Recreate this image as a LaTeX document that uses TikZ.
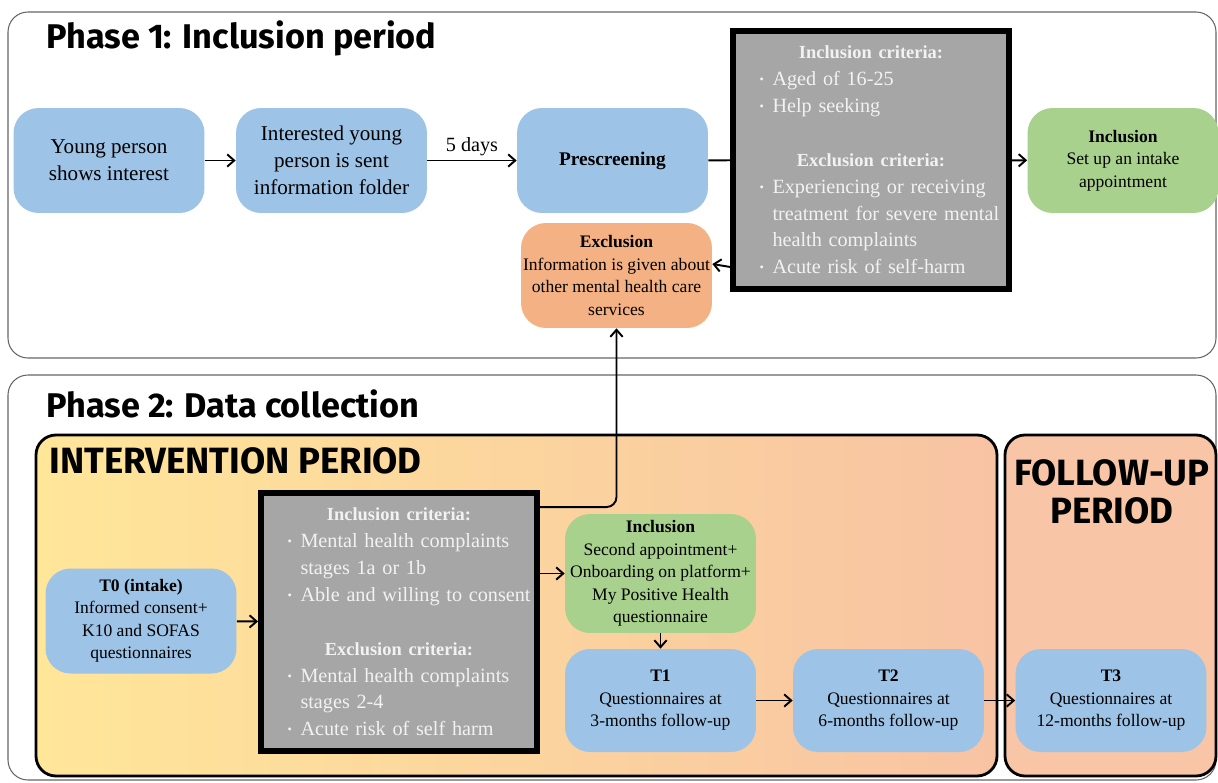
\documentclass[tikz,border=0pt]{standalone}
\usepackage{fontspec}
\setmainfont{Liberation Serif}
\newfontfamily\headfont{Fira Sans}
\usetikzlibrary{arrows.meta}
\definecolor{boxblue}{HTML}{9DC3E6}
\definecolor{boxgreen}{HTML}{A9D18E}
\definecolor{boxorange}{HTML}{F4B183}
\definecolor{critgray}{HTML}{A6A6A6}
\definecolor{crittext}{HTML}{F2F2F2}
\definecolor{ivyellow}{HTML}{FFE699}
\definecolor{ivpeach}{HTML}{F8C3A3}
\definecolor{fupeach}{HTML}{F8C6A6}
\newcommand{\crithead}[1]{{\centering\fontsize{10.5}{15.3}\selectfont\bfseries #1\par}}
\newcommand{\critem}[1]{{\leftskip=0.78cm\rightskip=-0.2cm plus 1fil\hyphenpenalty=10000\noindent\llap{\raisebox{0.2ex}{\scriptsize\textbullet}\hspace{0.17cm}}#1\par}}

\begin{document}
\begin{tikzpicture}[x=0.02cm,y=-0.02cm]
	\tikzstyle{every node}+=[inner sep=0pt]
	\tikzstyle{frame}=[draw=black!60, line width=0.6pt, rounded corners=0.4cm]
	\tikzstyle{period}=[draw=black, line width=1.6pt, rounded corners=0.4cm]
	\tikzstyle{flow}=[rounded corners=0.5cm, minimum width=3.82cm, minimum height=2.1cm, align=center, font=\fontsize{12}{15.3}\selectfont]
	\tikzstyle{note}=[flow, font=\fontsize{10}{12.8}\selectfont]
	\tikzstyle{critbox}=[draw=black, line width=3.4pt, fill=critgray, minimum width=5.52cm, minimum height=5.16cm, text width=5.5cm, align=left, text=crittext, font=\fontsize{11.5}{15.3}\selectfont]
	\tikzstyle{arr}=[-{Straight Barb[length=4pt,width=7pt]}, line width=1.1pt]
	\tikzstyle{title}=[anchor=west, font=\headfont\bfseries\fontsize{19.5}{23}\selectfont]
	\tikzstyle{period title}=[title, font=\headfont\bfseries\fontsize{20.8}{21.5}\selectfont]
	\useasboundingbox (0,0) rectangle (1218,782);
	\draw[frame] (8,12) rectangle (1216,358);
	\draw[frame] (8,375) rectangle (1216,780);
	\shade[left color=ivyellow, right color=ivpeach, rounded corners=0.4cm] (36,435) rectangle (997,776);
	\draw[period] (36,435) rectangle (997,776);
	\draw[period, fill=fupeach] (1005,435) rectangle (1216,776);
	\node[title] (ph1) at (46,38) {Phase 1: Inclusion period};
	\node[title] (ph2) at (46,404) {Phase 2: Data collection};
	\node[period title] (ivp) at (49,461) {INTERVENTION PERIOD};
	\node[period title, anchor=center, align=center] (fup) at (1112,492) {FOLLOW-UP\\PERIOD};
	\node[flow, fill=boxblue] (young) at (109,160.5) {Young person\\shows interest};
	\node[flow, fill=boxblue] (folder) at (331.5,160.5) {Interested young\\person is sent\\information folder};
	\node[flow, fill=boxblue] (presc) at (612.5,160.5) {\fontsize{11}{14}\selectfont\textbf{Prescreening}};
	\node[critbox] (crit1) at (871,160) {
		\crithead{Inclusion criteria:}
		\critem{Aged of 16-25}
		\critem{Help seeking}
		\vspace{15.3pt}
		\crithead{Exclusion criteria:}
		\critem{Experiencing or receiving\newline treatment for severe mental\newline health complaints}
		\critem{Acute risk of self-harm}};
	\node[note, fill=boxgreen] (intake) at (1123,160.5) {\textbf{Inclusion}\\Set up an intake\\appointment};
	\node[note, fill=boxorange] (excl) at (616.5,275.5) {\textbf{Exclusion}\\Information is given about\\other mental health care\\services};
	\node[note, fill=boxblue] (t0) at (141,621) {\textbf{T0 (intake)}\\Informed consent+\\K10 and SOFAS\\questionnaires};
	\node[critbox] (crit2) at (399,622) {
		\crithead{Inclusion criteria:}
		\critem{Mental health complaints\newline stages 1a or 1b}
		\critem{Able and willing to consent}
		\vspace{15.3pt}
		\crithead{Exclusion criteria:}
		\critem{Mental health complaints\newline stages 2-4}
		\critem{Acute risk of self harm}};
	\node[note, fill=boxgreen, minimum height=2.38cm] (onboard) at (660.5,573.5) {\textbf{Inclusion}\\Second appointment+\\Onboarding on platform+\\My Positive Health\\questionnaire};
	\node[note, fill=boxblue, minimum height=2.06cm] (t1) at (660.5,700.5) {\textbf{T1}\\Questionnaires at\\3-months follow-up};
	\node[note, fill=boxblue, minimum height=2.06cm] (t2) at (888.5,700.5) {\textbf{T2}\\Questionnaires at\\6-months follow-up};
	\node[note, fill=boxblue, minimum height=2.06cm] (t3) at (1111,700.5) {\textbf{T3}\\Questionnaires at\\12-months follow-up};
	\draw[arr] (young) -- (folder);
	\draw[arr] (folder) -- node[above=2pt, font=\fontsize{11.5}{14}\selectfont] (days) {5 days} (presc);
	\draw[line width=1.1pt] (presc) -- (crit1);
	\draw[arr] (crit1) -- (intake);
	\draw[arr] ([yshift=0.5cm]crit1.south west) -- ([yshift=0.23cm]excl.east);
	\draw[arr] (t0) -- (crit2);
	\draw[arr] (crit2.east |- onboard.west) -- (onboard.west);
	\draw[arr] (onboard) -- (t1);
	\draw[arr] (t1) -- (t2);
	\draw[arr] (t2) -- (t3);
	\draw[arr, rounded corners=0.2cm] ([yshift=-0.34cm]crit2.north east) -| (excl.south);
\end{tikzpicture}
\end{document}
